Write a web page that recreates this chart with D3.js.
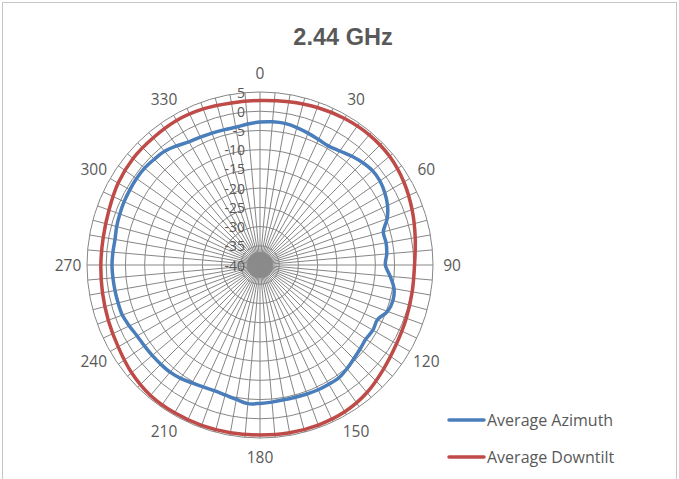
<!DOCTYPE html>
<html><head><meta charset="utf-8">
<script src="https://cdn.jsdelivr.net/npm/d3@7/dist/d3.min.js"></script>
<style>body{margin:0;background:#fff}svg{display:block}</style>
</head><body><svg id="chart" width="679" height="479"></svg>
<script>
const chartTitle = "2.44 GHz";
const seriesNames = ["Average Azimuth", "Average Downtilt"];
const seriesColors = ["#4a7ebb", "#be4b48"];
const radialTicks = [-40, -35, -30, -25, -20, -15, -10, -5, 0, 5];
const spokeAngles = [0,5,10,15,20,25,30,35,40,45,50,55,60,65,70,75,80,85,90,95,100,105,110,115,120,125,130,135,140,145,150,155,160,165,170,175,180,185,190,195,200,205,210,215,220,225,230,235,240,245,250,255,260,265,270,275,280,285,290,295,300,305,310,315,320,325,330,335,340,345,350,355];
const angleLabels = [0, 30, 60, 90, 120, 150, 180, 210, 240, 270, 300, 330];

const azimuthAngles = [0,5,10,15,20,25,30,35,40,45,50,55,60,65,70,75,80,85,90,95,100,105,110,115,120,125,130,135,140,145,150,155,160,165,170,175,180,185,190,195,200,205,210,215,220,225,230,235,240,245,250,255,260,265,270,275,280,285,290,295,300,305,310,315,320,325,330,335,340,345,350,355];
const azimuthValues = [-2.8,-2.6,-2.6,-3.0,-3.5,-4.0,-4.3,-3.8,-3.0,-2.3,-1.8,-1.9,-2.5,-3.4,-4.8,-6.8,-6.7,-6.9,-7.4,-6.0,-4.6,-4.2,-4.7,-6.3,-6.1,-6.4,-6.0,-5.5,-4.8,-4.2,-4.2,-4.2,-4.3,-4.4,-4.4,-4.2,-4.0,-3.8,-4.5,-5.0,-5.2,-5.0,-4.6,-4.0,-3.6,-3.5,-3.4,-3.3,-3.1,-2.5,-1.9,-1.8,-1.7,-1.6,-1.5,-1.6,-1.7,-1.4,-1.2,-1.0,-0.9,-0.8,-0.8,-1.1,-1.4,-2.2,-3.0,-3.3,-3.5,-3.6,-3.6,-3.2];

const downtiltAngles = [0,10,20,30,40,50,60,70,80,90,100,110,120,130,140,150,160,170,180,190,200,210,220,230,240,250,260,270,280,290,300,310,320,330,340,350];
const downtiltValues = [2.8,3.1,3.6,4.0,4.2,4.0,3.2,2.1,1.0,0.2,0.2,0.5,1.0,2.0,3.3,4.1,4.3,4.3,4.2,4.3,4.4,4.4,4.3,3.6,2.6,2.0,1.6,1.4,1.4,1.8,2.6,3.1,3.2,3.4,3.2,2.8];

const svg = d3.select("#chart");
const cx = 260, cy = 265, R = 173;
const textColor = "#595959";
const gridColor = "#868686";
const labelFont = "'Open Sans', sans-serif";

svg.append("rect").attr("x", 2.5).attr("y", 2.5).attr("width", 674).attr("height", 490)
  .attr("fill", "#fff").attr("stroke", "#c6c6c6").attr("stroke-width", 1);

svg.append("text").attr("x", 343).attr("y", 45).attr("text-anchor", "middle")
  .attr("font-family", "Liberation Sans, Arial, sans-serif").attr("font-weight", "bold")
  .attr("font-size", 23.5).attr("fill", textColor).text(chartTitle);

const r = d3.scaleLinear().domain([radialTicks[0], radialTicks[radialTicks.length - 1]]).range([0, R]);
const ang = d3.scaleLinear().domain([0, 360]).range([0, 2 * Math.PI]);

const g = svg.append("g").attr("transform", `translate(${cx},${cy})`);

// rings
g.append("g").selectAll("circle").data(radialTicks.filter(v => r(v) > 0)).join("circle")
  .attr("r", d => r(d)).attr("fill", "none").attr("stroke", gridColor).attr("stroke-width", 1);

// spokes
g.append("g").selectAll("line").data(spokeAngles).join("line")
  .attr("x1", 0).attr("y1", 0)
  .attr("x2", d => R * Math.sin(ang(d))).attr("y2", d => -R * Math.cos(ang(d)))
  .attr("stroke", gridColor).attr("stroke-width", 1);

// dense hub where the spokes merge
g.append("circle").attr("r", 13).attr("fill", "#8a8a8a");

// angle labels
g.append("g").selectAll("text").data(angleLabels).join("text")
  .attr("x", d => (R + 19) * Math.sin(ang(d)))
  .attr("y", d => -(R + 19) * Math.cos(ang(d)))
  .attr("text-anchor", "middle").attr("dominant-baseline", "central")
  .attr("font-family", labelFont).attr("font-size", 15.5).attr("fill", textColor)
  .text(d => d);

// radial labels
g.append("g").selectAll("text").data(radialTicks).join("text")
  .attr("x", -15).attr("y", d => -r(d))
  .attr("text-anchor", "end").attr("dominant-baseline", "central")
  .attr("font-family", labelFont).attr("font-size", 14).attr("fill", textColor)
  .text(d => d);

const line = d3.lineRadial().curve(d3.curveCatmullRomClosed.alpha(0.5));

function addSeries(angles, values, color) {
  const pts = angles.map((a, i) => [ang(a), r(values[i])]);
  g.append("path").attr("d", line(pts)).attr("fill", "none")
    .attr("stroke", color).attr("stroke-width", 3.5).attr("stroke-linejoin", "round");
}
addSeries(azimuthAngles, azimuthValues, seriesColors[0]);
addSeries(downtiltAngles, downtiltValues, seriesColors[1]);

// legend
const lg = svg.append("g");
seriesNames.forEach((name, i) => {
  const y = 420 + i * 37;
  lg.append("line").attr("x1", 449).attr("x2", 484).attr("y1", y).attr("y2", y)
    .attr("stroke", seriesColors[i]).attr("stroke-width", 3.5).attr("stroke-linecap", "round");
  lg.append("text").attr("x", 487).attr("y", y).attr("dominant-baseline", "central")
    .attr("font-family", labelFont).attr("font-size", 16).attr("fill", textColor).text(name);
});
</script></body></html>
